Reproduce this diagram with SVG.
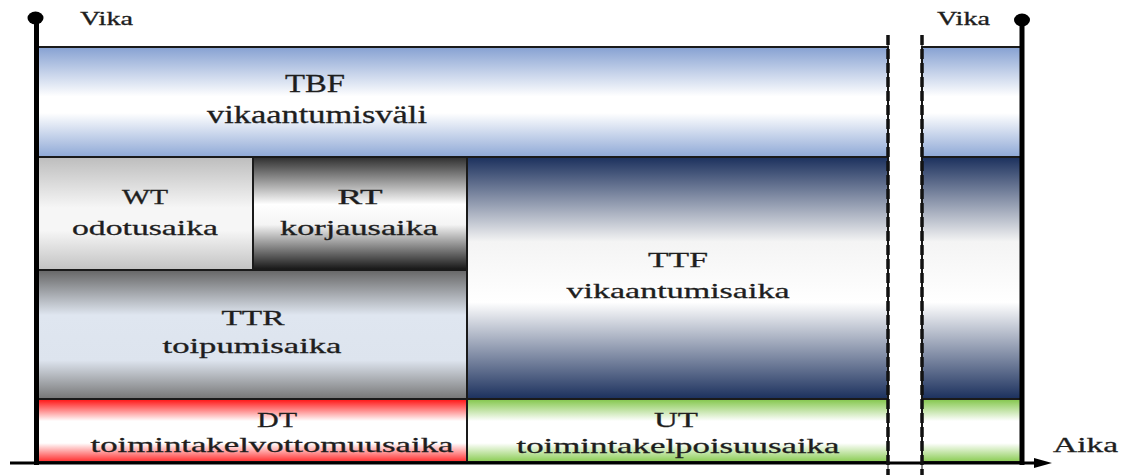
<svg xmlns="http://www.w3.org/2000/svg" width="1126" height="475" viewBox="0 0 1126 475">
<style>
text{font-family:'Liberation Serif','Times New Roman',serif;fill:#1e1e1e;stroke:#1e1e1e;stroke-width:0.3;text-anchor:middle}
.t{font-size:21px}
.b{stroke:#1a1a1a;stroke-width:2}
.v{stroke:#000;stroke-width:5}
.d{stroke:#111;stroke-width:3.5;stroke-dasharray:10 4}
.dl{stroke:#111;stroke-width:1}
</style>
<defs>
<linearGradient id="gBlue" x1="0" y1="0" x2="0" y2="1"><stop offset="0" stop-color="#86a1d2"/><stop offset="0.45" stop-color="#ffffff"/><stop offset="0.6" stop-color="#ffffff"/><stop offset="1" stop-color="#8ea8d6"/></linearGradient>
<linearGradient id="gLight" x1="0" y1="0" x2="0" y2="1"><stop offset="0" stop-color="#bdbdbd"/><stop offset="0.45" stop-color="#f6f6f6"/><stop offset="0.65" stop-color="#f6f6f6"/><stop offset="1" stop-color="#c2c2c2"/></linearGradient>
<linearGradient id="gDark" x1="0" y1="0" x2="0" y2="1"><stop offset="0" stop-color="#2e2e2e"/><stop offset="0.42" stop-color="#ffffff"/><stop offset="0.6" stop-color="#f4f4f4"/><stop offset="1" stop-color="#141414"/></linearGradient>
<linearGradient id="gTTR" x1="0" y1="0" x2="0" y2="1"><stop offset="0" stop-color="#666666"/><stop offset="0.35" stop-color="#dfe6f0"/><stop offset="0.7" stop-color="#dde4ee"/><stop offset="1" stop-color="#767676"/></linearGradient>
<linearGradient id="gNavy" x1="0" y1="0" x2="0" y2="1"><stop offset="0" stop-color="#1b305d"/><stop offset="0.35" stop-color="#f4f4f4"/><stop offset="0.6" stop-color="#ffffff"/><stop offset="1" stop-color="#1b305d"/></linearGradient>
<linearGradient id="gRed" x1="0" y1="0" x2="0" y2="1"><stop offset="0" stop-color="#ff1010"/><stop offset="0.35" stop-color="#ffffff"/><stop offset="0.7" stop-color="#ffffff"/><stop offset="1" stop-color="#ff2a2a"/></linearGradient>
<linearGradient id="gGreen" x1="0" y1="0" x2="0" y2="1"><stop offset="0" stop-color="#82c64a"/><stop offset="0.35" stop-color="#ffffff"/><stop offset="0.7" stop-color="#ffffff"/><stop offset="1" stop-color="#88cb50"/></linearGradient>
<marker id="arr" markerWidth="20" markerHeight="12" refX="1" refY="6" orient="auto" markerUnits="userSpaceOnUse"><path d="M0,1 L18,6 L0,11 Z" fill="#000"/></marker>
</defs>
<rect width="1126" height="475" fill="#fff"/>

<g id="TBF">
<rect class="b" x="37" y="47" width="851" height="110" fill="url(#gBlue)"/>
<rect class="b" x="922" y="47" width="100" height="110" fill="url(#gBlue)"/>
<text x="315" y="92" font-size="25" textLength="60" lengthAdjust="spacingAndGlyphs">TBF</text>
<text x="317" y="123" font-size="25" textLength="220" lengthAdjust="spacingAndGlyphs">vikaantumisväli</text>
</g>
<g id="WT">
<rect class="b" x="37" y="157" width="216" height="113" fill="url(#gLight)"/>
<text class="t" x="145" y="204" textLength="46" lengthAdjust="spacingAndGlyphs">WT</text>
<text class="t" x="145" y="235" textLength="146" lengthAdjust="spacingAndGlyphs">odotusaika</text>
</g>
<g id="RT">
<rect class="b" x="253" y="157" width="214" height="113" fill="url(#gDark)"/>
<text class="t" x="360" y="204" textLength="45" lengthAdjust="spacingAndGlyphs">RT</text>
<text class="t" x="359" y="235" textLength="158" lengthAdjust="spacingAndGlyphs">korjausaika</text>
</g>
<g id="TTR">
<rect class="b" x="37" y="270" width="430" height="129" fill="url(#gTTR)"/>
<text class="t" x="253" y="325" textLength="63" lengthAdjust="spacingAndGlyphs">TTR</text>
<text class="t" x="252" y="353" textLength="179" lengthAdjust="spacingAndGlyphs">toipumisaika</text>
</g>
<g id="TTF">
<rect class="b" x="467" y="157" width="421" height="242" fill="url(#gNavy)"/>
<rect class="b" x="922" y="157" width="100" height="242" fill="url(#gNavy)"/>
<text x="678" y="267" font-size="22" textLength="60" lengthAdjust="spacingAndGlyphs">TTF</text>
<text x="678" y="298" font-size="22" textLength="223" lengthAdjust="spacingAndGlyphs">vikaantumisaika</text>
</g>
<g id="DT">
<rect class="b" x="37" y="399" width="430" height="63" fill="url(#gRed)"/>
<text class="t" x="277" y="427" textLength="40" lengthAdjust="spacingAndGlyphs">DT</text>
<text class="t" x="272" y="452" textLength="363" lengthAdjust="spacingAndGlyphs">toimintakelvottomuusaika</text>
</g>
<g id="UT">
<rect class="b" x="467" y="399" width="421" height="63" fill="url(#gGreen)"/>
<rect class="b" x="922" y="399" width="100" height="63" fill="url(#gGreen)"/>
<text class="t" x="676" y="427" textLength="44" lengthAdjust="spacingAndGlyphs">UT</text>
<text class="t" x="678" y="453" textLength="323" lengthAdjust="spacingAndGlyphs">toimintakelpoisuusaika</text>
</g>

<g id="connectors">
<line x1="10" y1="463" x2="1035" y2="463" stroke="#000" stroke-width="3" marker-end="url(#arr)"/>
<line class="v" x1="36.5" y1="18" x2="36.5" y2="465"/>
<line class="v" x1="1022" y1="18" x2="1022" y2="465"/>
<ellipse cx="35.5" cy="18" rx="8" ry="6.5" fill="#000"/>
<ellipse cx="1022" cy="20" rx="8" ry="6.5" fill="#000"/>
<line class="dl" x1="888" y1="35" x2="888" y2="475"/>
<line class="dl" x1="922" y1="35" x2="922" y2="475"/>
<line class="d" x1="888" y1="35" x2="888" y2="475"/>
<line class="d" x1="922" y1="35" x2="922" y2="475"/>
</g>

<g id="labels">
<text x="106.5" y="25" font-size="18" textLength="53" lengthAdjust="spacingAndGlyphs">Vika</text>
<text x="963.5" y="25" font-size="18" textLength="53" lengthAdjust="spacingAndGlyphs">Vika</text>
<text class="t" x="1085.5" y="452" textLength="65" lengthAdjust="spacingAndGlyphs">Aika</text>
</g>
</svg>
